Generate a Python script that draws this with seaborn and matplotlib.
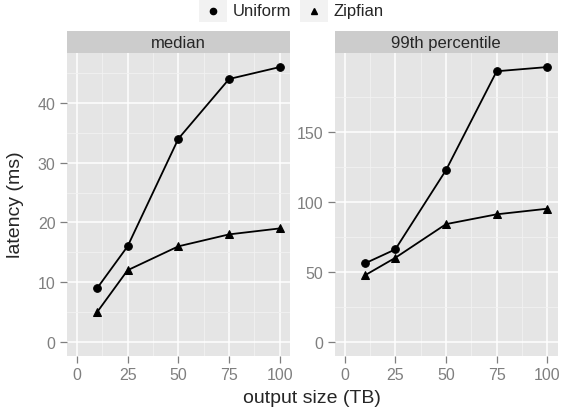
import numpy as np
import pandas as pd
import seaborn as sns
import matplotlib.pyplot as plt
from matplotlib.lines import Line2D
from matplotlib.patches import Rectangle

# --- data ---
SIZES = [10, 25, 50, 75, 100]
MEDIAN_UNIFORM = [9, 16, 34, 44, 46]
MEDIAN_ZIPFIAN = [5, 12, 16, 18, 19]
P99_UNIFORM = [56, 66, 122.5, 193, 196]
P99_ZIPFIAN = [47.5, 60, 84, 91, 95]

PANELS = ["median", "99th percentile"]
DISTS = ["Uniform", "Zipfian"]
X_TICKS = [0, 25, 50, 75, 100]
Y_TICKS = [[0, 10, 20, 30, 40], [0, 50, 100, 150]]

rows = []
for panel, uni, zipf in [(PANELS[0], MEDIAN_UNIFORM, MEDIAN_ZIPFIAN),
                         (PANELS[1], P99_UNIFORM, P99_ZIPFIAN)]:
    for s, u, z in zip(SIZES, uni, zipf):
        rows.append((panel, "Uniform", s, u))
        rows.append((panel, "Zipfian", s, z))
df = pd.DataFrame(rows, columns=["stat", "dist", "size", "latency"])

sns.set_style("white")
plt.rcParams["font.family"] = ["Liberation Sans", "DejaVu Sans"]

W, H = 563, 414
fig = plt.figure(figsize=(W / 100, H / 100), dpi=100)

def px(x0, y0, x1, y1):
    # pixel box -> figure fraction [left, bottom, width, height]
    return [x0 / W, 1 - y1 / H, (x1 - x0) / W, (y1 - y0) / H]

panel_boxes = [(66.7, 54.3, 290, 356.7), (334.5, 54.3, 557.5, 356.7)]
strip_top = 32.3
grey_txt = "#7F7F7F"

for i, panel in enumerate(PANELS):
    x0, y0, x1, y1 = panel_boxes[i]
    ax = fig.add_axes(px(x0, y0, x1, y1))
    ax.set_facecolor("#E5E5E5")
    sub = df[df["stat"] == panel]
    sns.lineplot(data=sub, x="size", y="latency", style="dist", style_order=DISTS,
                 markers={"Uniform": "o", "Zipfian": "^"}, dashes=False,
                 color="black", lw=1.3, markersize=5.5, markeredgecolor="black",
                 legend=False, ax=ax)

    ymax = sub["latency"].max()
    ax.set_xlim(-5, 105)
    ax.set_ylim(-0.05 * ymax, 1.05 * ymax)
    ax.set_xticks(X_TICKS)
    ax.set_yticks(Y_TICKS[i])
    ax.set_xticks([12.5, 37.5, 62.5, 87.5], minor=True)
    yt = Y_TICKS[i]
    step = yt[1] - yt[0]
    ax.set_yticks([t + step / 2 for t in yt], minor=True)
    ax.grid(True, which="major", color="white", lw=1.1)
    ax.grid(True, which="minor", color="#F2F2F2", lw=0.6)
    ax.set_axisbelow(True)
    for sp in ax.spines.values():
        sp.set_visible(False)
    ax.tick_params(which="major", length=5, width=0.9, color=grey_txt,
                   labelcolor=grey_txt, labelsize=11.5, pad=3,
                   bottom=True, left=True)
    ax.tick_params(which="minor", length=0)
    ax.set_xlabel("")
    ax.set_ylabel("")

    # facet strip
    sax = fig.add_axes(px(x0, strip_top, x1, y0))
    sax.set_facecolor("#CCCCCC")
    sax.set_xticks([])
    sax.set_yticks([])
    for sp in sax.spines.values():
        sp.set_visible(False)
    sax.text(0.5, 0.5, panel, ha="center", va="center", fontsize=12,
             transform=sax.transAxes)

fig.text(312 / W, 1 - 399 / H, "output size (TB)", ha="center", va="center", fontsize=14)
fig.text(16 / W, 1 - 205 / H, "latency (ms)", ha="center", va="center",
         rotation=90, fontsize=14)

# legend on top
keys = [(199, "Uniform", "o", 233), (300, "Zipfian", "^", 334)]
for kx, label, mk, tx in keys:
    fig.patches.append(Rectangle((kx / W, 1 - 23 / H), 27.7 / W, 23 / H,
                                 transform=fig.transFigure, facecolor="#F2F2F2",
                                 edgecolor="none"))
    fig.lines.append(Line2D([(kx + 13.8) / W], [1 - 11.5 / H], marker=mk,
                            color="black", markersize=4.5, linestyle="none",
                            transform=fig.transFigure))
    fig.text(tx / W, 1 - 11.5 / H, label, ha="left", va="center", fontsize=12)

plt.savefig("out.png", dpi=100)
